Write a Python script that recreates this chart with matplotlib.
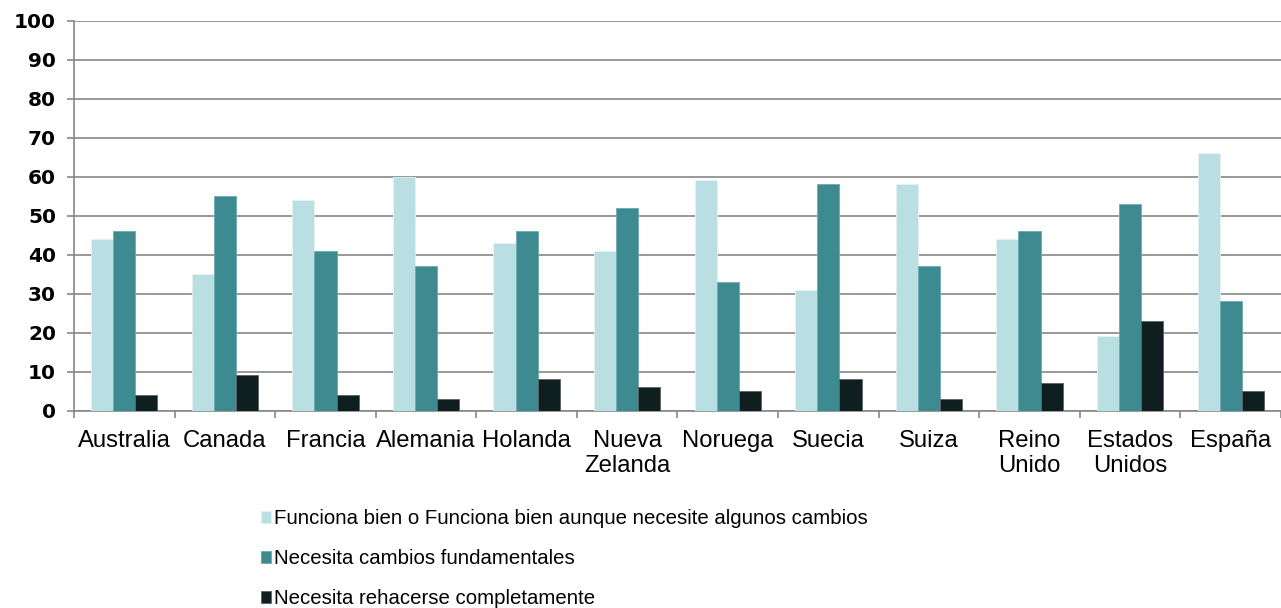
import numpy as np
import matplotlib.pyplot as plt

plt.rcParams['font.family'] = ['Liberation Sans', 'DejaVu Sans']

# data
paises = ['Australia', 'Canada', 'Francia', 'Alemania', 'Holanda', 'Nueva\nZelanda',
          'Noruega', 'Suecia', 'Suiza', 'Reino\nUnido', 'Estados\nUnidos', 'España']
funciona_bien = [44, 35, 54, 60, 43, 41, 59, 31, 58, 44, 19, 66]
cambios_fund = [46, 55, 41, 37, 46, 52, 33, 58, 37, 46, 53, 28]
rehacer = [4, 9, 4, 3, 8, 6, 5, 8, 3, 7, 23, 5]

series = [
    ('Funciona bien o Funciona bien aunque necesite algunos cambios', funciona_bien, '#b9dfe2', '#e4f3f4'),
    ('Necesita cambios fundamentales', cambios_fund, '#3d8b91', '#6aaab0'),
    ('Necesita rehacerse completamente', rehacer, '#0f1e1e', '#5a6464'),
]

grey = '#878787'

fig = plt.figure(figsize=(12.81, 6.08), dpi=100)
ax = fig.add_axes([74 / 1281, 1 - 410.5 / 608, 1 - 74 / 1281, (410.5 - 20.5) / 608])

x = np.arange(len(paises))
w = 0.22
for k, (label, vals, col, edge) in enumerate(series):
    ax.bar(x + (k - 1) * w, vals, width=w, color=col, edgecolor=edge,
           linewidth=0.6, label=label, zorder=3)

ax.set_xlim(-0.5, len(paises) - 0.5)
ax.set_ylim(0, 100)
ax.set_yticks(np.arange(0, 101, 10))
ax.yaxis.grid(True, color=grey, linewidth=1.2, zorder=0)
ax.set_axisbelow(True)

for s in ['top', 'right']:
    ax.spines[s].set_visible(False)
for s in ['left', 'bottom']:
    ax.spines[s].set_color(grey)
    ax.spines[s].set_linewidth(1.2)

ax.set_xticks(x)
ax.set_xticklabels(paises, fontsize=17.2)
ax.set_xticks(np.arange(-0.5, len(paises), 1), minor=True)
ax.tick_params(axis='x', which='major', length=0, pad=14, labelcolor='black')
ax.tick_params(axis='x', which='minor', length=5, width=1.2, color=grey, direction='out')
ax.tick_params(axis='y', length=5, width=1.2, color=grey, pad=8)
for t in ax.get_yticklabels():
    t.set_fontsize(14.5)
    t.set_fontweight('bold')
    t.set_family(['DejaVu Sans'])

fig.legend(loc='upper left', bbox_to_anchor=(261 / 1281, 1 - 509 / 608),
           frameon=False, fontsize=14.7, handlelength=0.5, handleheight=0.5,
           handletextpad=0.15, labelspacing=1.04, borderpad=0, borderaxespad=0)

fig.savefig('out.png', dpi=100)
